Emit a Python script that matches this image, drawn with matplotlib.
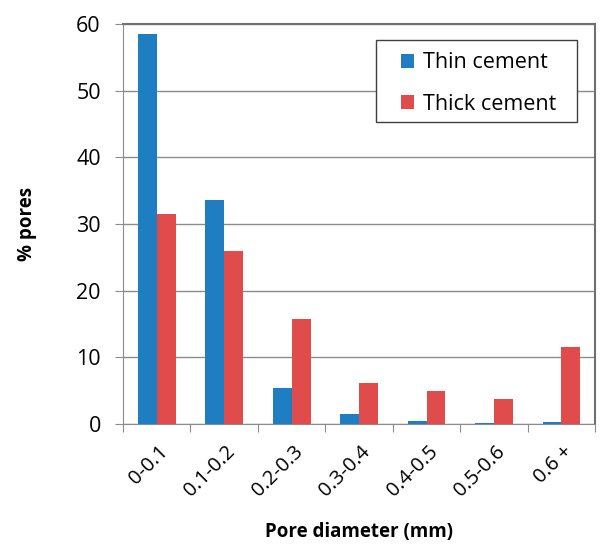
import numpy as np
import matplotlib.pyplot as plt
from matplotlib.patches import Rectangle

plt.rcParams['font.family'] = ['Open Sans', 'DejaVu Sans']

categories = ['0-0.1', '0.1-0.2', '0.2-0.3', '0.3-0.4', '0.4-0.5', '0.5-0.6', '0.6 +']
thin = [58.5, 33.6, 5.4, 1.5, 0.5, 0.2, 0.3]
thick = [31.5, 25.9, 15.7, 6.2, 4.9, 3.8, 11.6]

x = np.arange(len(categories))
w = 0.28

fig = plt.figure(figsize=(6, 5.45), dpi=100)
ax = fig.add_axes([0.205, 0.222, 0.787, 0.734])

ax.bar(x - w / 2, thin, w, color='#1f7dc1', label='Thin cement', zorder=3)
ax.bar(x + w / 2, thick, w, color='#e04c4b', label='Thick cement', zorder=3)

ax.set_xlim(-0.5, len(categories) - 0.5)
ax.set_ylim(0, 60)
ax.set_yticks(range(0, 61, 10))
ax.yaxis.grid(True, color='#8c8c8c', linewidth=1, zorder=0)

ax.set_xticks(np.arange(-0.5, len(categories), 1), minor=False)
ax.set_xticklabels([])
ax.set_xticks(x + 0.12, minor=True)
ax.set_xticklabels(categories, minor=True, rotation=45, ha='right', va='center',
                   rotation_mode='anchor', fontsize=14.5)
ax.tick_params(axis='x', which='minor', length=0, pad=18)
ax.tick_params(axis='x', which='major', length=6, color='#8c8c8c')
ax.tick_params(axis='y', length=6, color='#8c8c8c', labelsize=15.5, pad=10)

for s in ['left', 'bottom']:
    ax.spines[s].set_color('#8c8c8c')
for s in ['top', 'right']:
    ax.spines[s].set_color('#707070')
    ax.spines[s].set_linewidth(1.5)

ax.set_xlabel('Pore diameter (mm)', fontsize=13.5, fontweight='bold', labelpad=15)
ax.set_ylabel('% pores', fontsize=13.5, fontweight='bold', labelpad=28)

# legend box drawn separately to get the wide left padding
ax.add_patch(Rectangle((0.536, 0.755), 0.426, 0.205, transform=ax.transAxes,
                       facecolor='white', edgecolor='#404040', linewidth=1, zorder=4))
leg = ax.legend(loc='upper left', bbox_to_anchor=(0.575, 0.945), fontsize=15.5, frameon=False,
                handlelength=0.6, handleheight=0.6, borderpad=0.3, labelspacing=0.95,
                handletextpad=0.4, borderaxespad=0)
leg.set_zorder(5)

fig.savefig('out.png', dpi=100)
